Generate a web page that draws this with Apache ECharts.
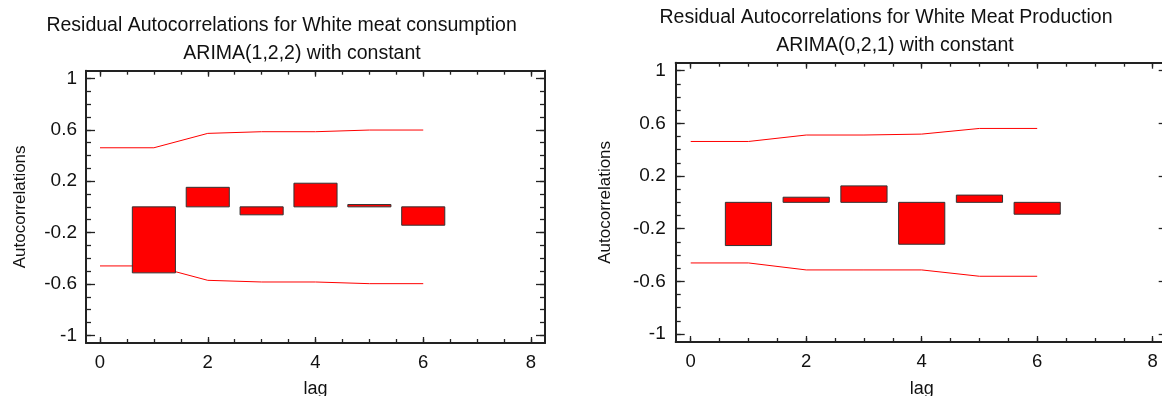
<!DOCTYPE html>
<html>
<head>
<meta charset="utf-8">
<script src="https://cdn.jsdelivr.net/npm/echarts@6/dist/echarts.min.js"></script>
<style>
html,body{margin:0;padding:0;background:#fff;}
#chart{width:1162px;height:396px;}
</style>
</head>
<body>
<div id="chart"></div>
<script>
// ---- data ----
const barLags = [1, 2, 3, 4, 5, 6];
const limitLags = [0, 1, 2, 3, 4, 5, 6];
const consumptionAcf = [-0.514, 0.152, -0.062, 0.184, 0.018, -0.143];
const consumptionUpper = [0.46, 0.46, 0.572, 0.585, 0.585, 0.598, 0.598];
const consumptionLower = [-0.46, -0.46, -0.572, -0.585, -0.585, -0.598, -0.598];
const productionAcf = [-0.328, 0.039, 0.125, -0.318, 0.055, -0.09];
const productionUpper = [0.462, 0.462, 0.511, 0.511, 0.518, 0.561, 0.561];
const productionLower = [-0.46, -0.46, -0.513, -0.513, -0.513, -0.561, -0.561];
const xMajorTicks = [0, 2, 4, 6, 8];
const xMinorTicks = [0, 0.5, 1, 1.5, 2, 2.5, 3, 3.5, 4, 4.5, 5, 5.5, 6, 6.5, 7, 7.5, 8];
const yMajorTicks = [-1, -0.6, -0.2, 0.2, 0.6, 1];
const yMinorTicks = [-1, -0.9, -0.8, -0.7, -0.6, -0.5, -0.4, -0.3, -0.2, -0.1, 0, 0.1, 0.2, 0.3, 0.4, 0.5, 0.6, 0.7, 0.8, 0.9, 1];
const titles = {
  left: ['Residual Autocorrelations for White meat consumption', 'ARIMA(1,2,2) with constant'],
  right: ['Residual Autocorrelations for White Meat Production', 'ARIMA(0,2,1) with constant']
};
const yName = 'Autocorrelations';
const xName = 'lag';

// ---- styling ----
const FONT = '"Liberation Sans", Arial, sans-serif';
const AXIS_COLOR = '#222';
const X_MIN = -0.26, X_MAX = 8.26, Y_MIN = -1.06, Y_MAX = 1.06;

const chart = echarts.init(document.getElementById('chart'), null, {renderer: 'canvas'});

const leftRect = {left: 86, top: 70.7, width: 459, height: 272.3, outerBoundsMode: 'none', containLabel: false};
const rightRect = {left: 675.7, top: 62.7, width: 492, height: 279.3, outerBoundsMode: 'none', containLabel: false};
const grids = [
  Object.assign({}, leftRect), Object.assign({}, leftRect),
  Object.assign({}, rightRect), Object.assign({}, rightRect)
];

function xAxes(gridIndex, nameGap, labelMargin) {
  const base = {type: 'value', min: X_MIN, max: X_MAX, splitLine: {show: false}};
  return [
    Object.assign({}, base, {
      gridIndex, position: 'bottom',
      name: xName, nameLocation: 'middle', nameGap,
      nameTextStyle: {fontFamily: FONT, fontSize: 18, color: '#111'},
      axisLine: {show: true, onZero: false, lineStyle: {color: AXIS_COLOR, width: 2}},
      axisTick: {show: true, inside: true, length: 6, customValues: xMajorTicks, lineStyle: {color: AXIS_COLOR, width: 1.3}},
      axisLabel: {show: true, customValues: xMajorTicks, margin: labelMargin, fontFamily: FONT, fontSize: 18.5, color: '#111'}
    }),
    Object.assign({}, base, {
      gridIndex, position: 'top',
      axisLine: {show: true, onZero: false, lineStyle: {color: AXIS_COLOR, width: 2}},
      axisTick: {show: true, inside: true, length: 6, customValues: xMajorTicks, lineStyle: {color: AXIS_COLOR, width: 1.3}},
      axisLabel: {show: false}
    }),
    Object.assign({}, base, {
      gridIndex: gridIndex + 1, position: 'bottom',
      axisLine: {show: false, onZero: false},
      axisTick: {show: true, inside: true, length: 4, customValues: xMinorTicks, lineStyle: {color: AXIS_COLOR, width: 1.3}},
      axisLabel: {show: false}
    }),
    Object.assign({}, base, {
      gridIndex: gridIndex + 1, position: 'top',
      axisLine: {show: false, onZero: false},
      axisTick: {show: true, inside: true, length: 4, customValues: xMinorTicks, lineStyle: {color: AXIS_COLOR, width: 1.3}},
      axisLabel: {show: false}
    })
  ];
}

function yAxes(gridIndex, nameGap, labelMargin) {
  const base = {type: 'value', min: Y_MIN, max: Y_MAX, splitLine: {show: false}};
  return [
    Object.assign({}, base, {
      gridIndex, position: 'left',
      name: yName, nameLocation: 'middle', nameGap, nameRotate: 90,
      nameTextStyle: {fontFamily: FONT, fontSize: 17, color: '#111'},
      axisLine: {show: true, onZero: false, lineStyle: {color: AXIS_COLOR, width: 2}},
      axisTick: {show: true, inside: true, length: 9, customValues: yMajorTicks, lineStyle: {color: AXIS_COLOR, width: 1.3}},
      axisLabel: {show: true, customValues: yMajorTicks, margin: labelMargin, fontFamily: FONT, fontSize: 19, color: '#111',
        formatter: v => String(Math.round(v * 10) / 10)}
    }),
    Object.assign({}, base, {
      gridIndex, position: 'right',
      axisLine: {show: true, onZero: false, lineStyle: {color: AXIS_COLOR, width: 2}},
      axisTick: {show: true, inside: true, length: 9, customValues: yMajorTicks, lineStyle: {color: AXIS_COLOR, width: 1.3}},
      axisLabel: {show: false}
    }),
    Object.assign({}, base, {
      gridIndex: gridIndex + 1, position: 'left',
      axisLine: {show: false, onZero: false},
      axisTick: {show: true, inside: true, length: 5, customValues: yMinorTicks, lineStyle: {color: AXIS_COLOR, width: 1.3}},
      axisLabel: {show: false}
    }),
    Object.assign({}, base, {
      gridIndex: gridIndex + 1, position: 'right',
      axisLine: {show: false, onZero: false},
      axisTick: {show: true, inside: true, length: 5, customValues: yMinorTicks, lineStyle: {color: AXIS_COLOR, width: 1.3}},
      axisLabel: {show: false}
    })
  ];
}

function barSeries(values, axisIndex) {
  return {
    type: 'custom',
    xAxisIndex: axisIndex, yAxisIndex: axisIndex,
    data: barLags.map((l, i) => [l, values[i]]),
    renderItem: function (params, api) {
      const lag = api.value(0), v = api.value(1);
      const p1 = api.coord([lag - 0.4, v]);
      const p2 = api.coord([lag + 0.4, 0]);
      return {
        type: 'rect',
        shape: {x: p1[0], y: Math.min(p1[1], p2[1]), width: p2[0] - p1[0], height: Math.abs(p2[1] - p1[1])},
        style: {fill: '#ff0000', stroke: '#333', lineWidth: 1}
      };
    },
    z: 3
  };
}

function limitSeries(values, axisIndex) {
  return {
    type: 'line',
    xAxisIndex: axisIndex, yAxisIndex: axisIndex,
    data: limitLags.map((l, i) => [l, values[i]]),
    showSymbol: false, symbol: 'none',
    lineStyle: {color: '#ff0000', width: 1},
    itemStyle: {color: '#ff0000'},
    z: 2
  };
}

function titleText(text, x, y) {
  return {
    type: 'text', x, y,
    style: {text, fontFamily: FONT, fontSize: 19.5, fill: '#111', align: 'center', verticalAlign: 'middle'}
  };
}

const option = {
  animation: false,
  backgroundColor: '#fff',
  grid: grids,
  xAxis: [].concat(xAxes(0, 37, 10), xAxes(2, 38, 10.5)),
  yAxis: [].concat(yAxes(0, 57, 9), yAxes(2, 62, 10)),
  series: [
    limitSeries(consumptionUpper, 0),
    limitSeries(consumptionLower, 0),
    barSeries(consumptionAcf, 0),
    limitSeries(productionUpper, 4),
    limitSeries(productionLower, 4),
    barSeries(productionAcf, 4)
  ],
  graphic: [
    titleText(titles.left[0], 281.6, 26),
    titleText(titles.left[1], 302, 54),
    titleText(titles.right[0], 886, 18),
    titleText(titles.right[1], 895, 46)
  ]
};
chart.setOption(option);
</script>
</body>
</html>
